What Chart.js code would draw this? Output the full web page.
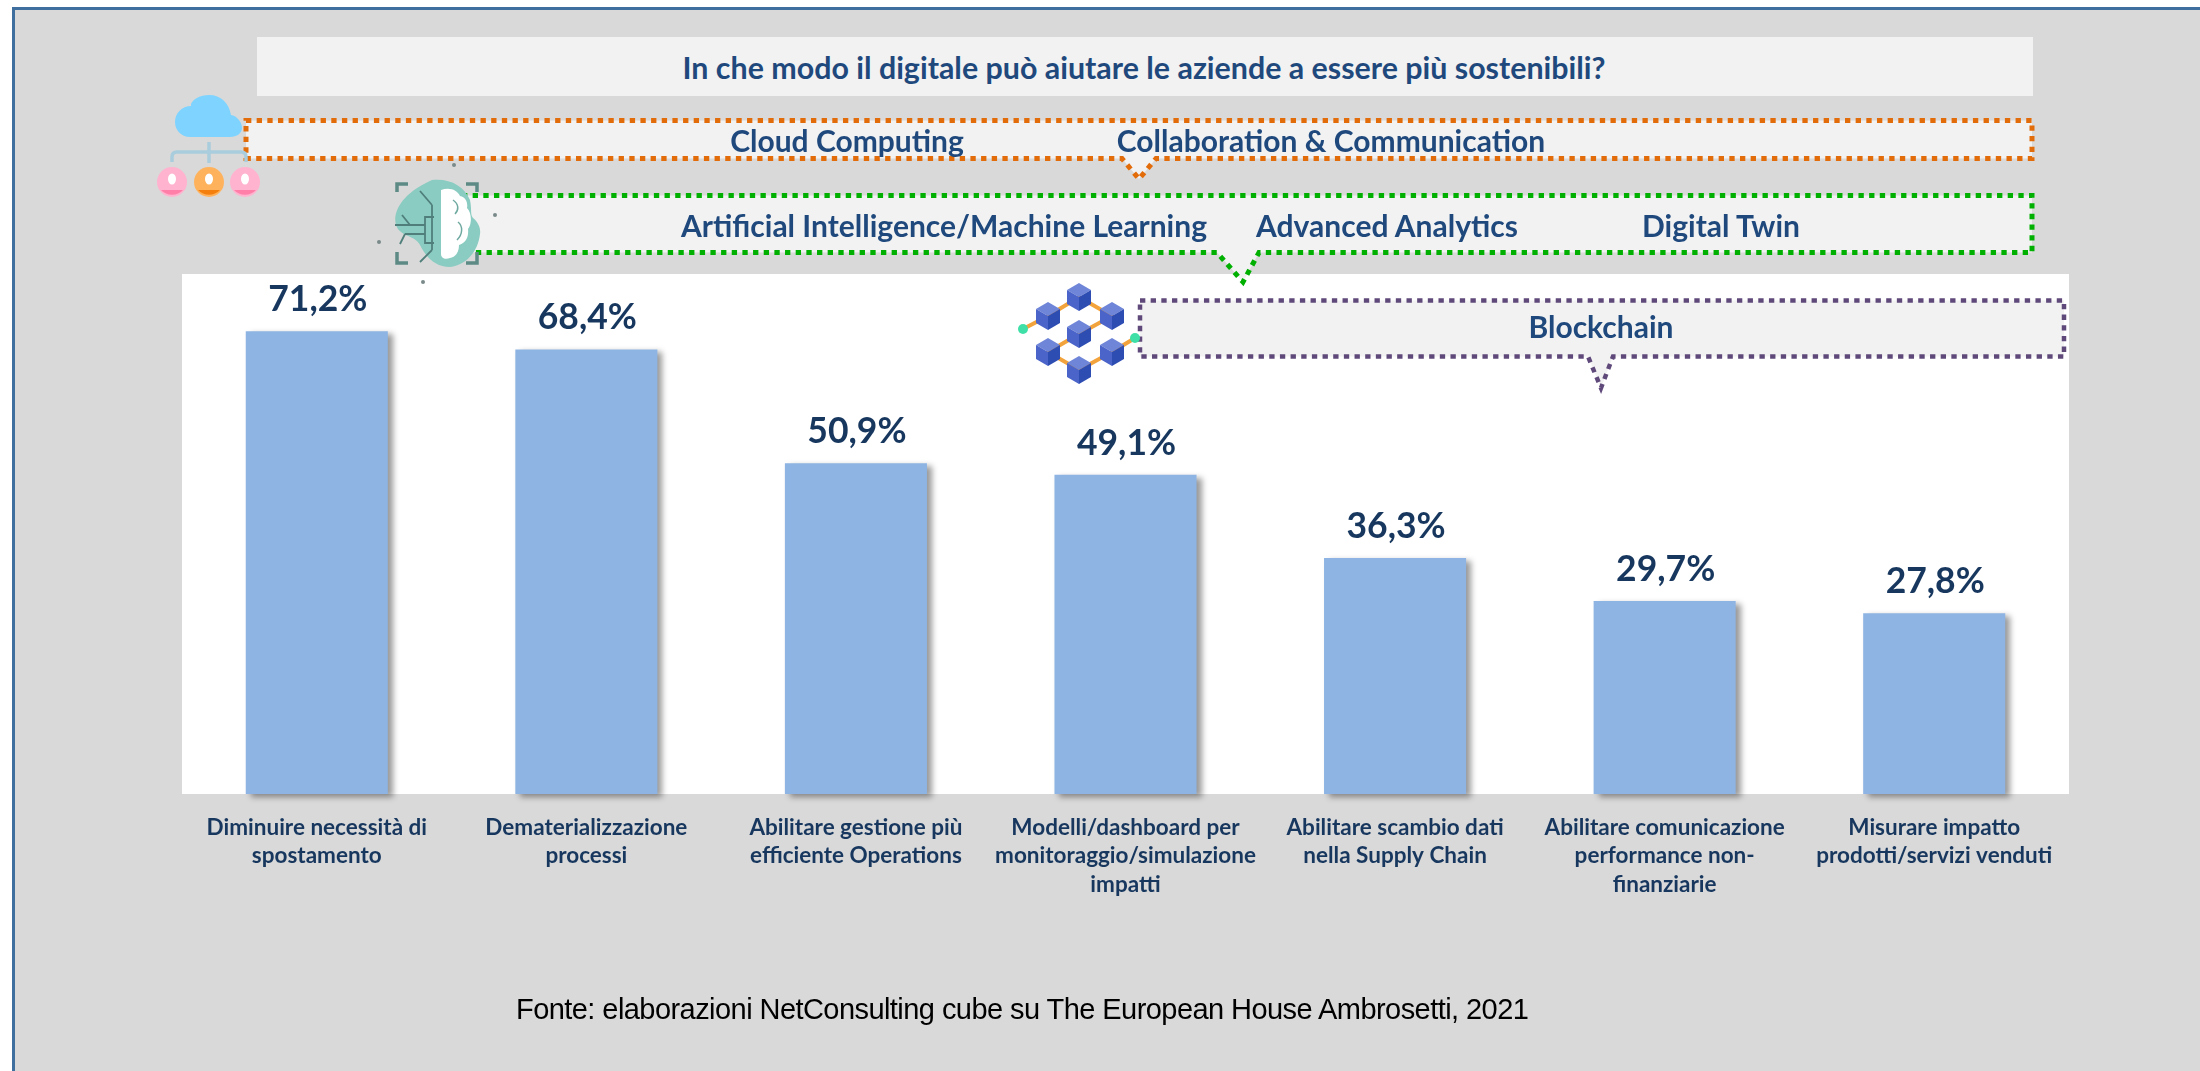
<!DOCTYPE html>
<html lang="it"><head><meta charset="utf-8">
<style>
html,body{margin:0;padding:0;width:2200px;height:1071px;overflow:hidden;background:#fff}
#wrap{position:absolute;left:0;top:0;width:2200px;height:1071px}
#c{position:absolute;left:0;top:0}
svg{position:absolute;left:0;top:0}
.t{position:absolute;transform:translate(-50%,-50%);white-space:nowrap;font-family:Lato,sans-serif;font-weight:700;color:#1f497d;font-size:30px}
#src{position:absolute;left:516px;top:993px;font-family:"Liberation Sans",sans-serif;font-size:29px;letter-spacing:-0.56px;color:#000;white-space:nowrap}
#frame{position:absolute;left:12px;top:7px;right:-10px;bottom:-10px;background:#d9d9d9;border:3px solid #3f6f9f}
</style></head><body>
<div id="wrap">
<div id="frame"></div>
<canvas id="c" width="2200" height="1071"></canvas>
<svg width="2200" height="1071" viewBox="0 0 2200 1071">
<rect x="257" y="37" width="1776" height="59" fill="#f2f2f2"/>
<path d="M246 120.500H2032V158.500H1156L1139 179L1122 158.500H246Z" fill="#f2f2f2" stroke="#e36c0a" stroke-width="5" stroke-dasharray="5.330 5.330"/>
<path d="M462 195.500H2032V252.500H1259L1243 282L1217 252.500H462Z" fill="#f2f2f2" stroke="#00b000" stroke-width="5" stroke-dasharray="5.330 5.330"/>
<path d="M1140 300.500H2064V356.500H1613L1601 388L1588 356.500H1140Z" fill="#f2f2f2" stroke="#5f497a" stroke-width="4.500" stroke-dasharray="5.330 5.330"/>
<!-- cloud network icon -->
<g>
<path d="M190 137c-9 0-15-7-15-15 0-9 7-16 16-16 0-1 0-2 0-2 2-5 9-9 18-9 12 0 20 8 22 20 6 1 11 7 11 13 0 5-5 9-12 9z" fill="#7fd4ff"/>
<path d="M209 142v21M172 162v-5q0-5 5-5h64q5 0 5 5v5" fill="none" stroke="#a9cddc" stroke-width="3.500"/>
<circle cx="172" cy="182" r="15" fill="#ffb3cf"/><circle cx="209" cy="182" r="15" fill="#ffb25c"/><circle cx="245" cy="182" r="15" fill="#ffb3cf"/>
<path d="M161 190a15 15 0 0 0 22 0z" fill="#ff7fa8"/><path d="M198 190a15 15 0 0 0 22 0z" fill="#f57f0c"/><path d="M234 190a15 15 0 0 0 22 0z" fill="#ff7fa8"/>
<ellipse cx="172" cy="179" rx="4" ry="5.500" fill="#fff"/><ellipse cx="209" cy="179" rx="4" ry="5.500" fill="#fff"/><ellipse cx="245" cy="179" rx="4" ry="5.500" fill="#fff"/>
</g>
<!-- brain icon -->
<g>
<path d="M432 180c18-2 32 6 38 20 2 10 0 14 3 18 5 4 8 10 7 16-2 18-14 31-30 33-15 0-24-10-30-22-5-10-20-8-24-20-3-10 2-30 36-45z" fill="#8accc1"/>
<path d="M397 192v-8h11M466 184h11v8M397 252v11h11M477 252v11h-11" fill="none" stroke="#5d8a85" stroke-width="3.500"/>
<path d="M441 190c9-3 16 0 19 6 6 1 8 7 7 12 5 5 5 16 1 21 1 9-3 14-9 16 0 8-4 12-9 13-5 2-9 0-9-4z" fill="#fff"/>
<path d="M453 200c6 4 6 10 2 14M458 222c5 4 5 12-1 18" fill="none" stroke="#6fa9a0" stroke-width="1.500"/>
<path d="M432 205v45M434 217h-9v26h9M425 225h-30M425 234h-20M432 205l-12-14M432 250l-12 12M410 225l-8-10M405 234l-5 10" fill="none" stroke="#507f7b" stroke-width="1.800"/>
<circle cx="379" cy="242" r="2" fill="#7a8a8a"/><circle cx="454" cy="165" r="2" fill="#7a8a8a"/><circle cx="423" cy="282" r="2" fill="#7a8a8a"/><circle cx="495" cy="215" r="2" fill="#7a8a8a"/>
</g>
<!-- blocks icon -->
<g id="bk"></g>
</svg>
<div class="t" style="left:1144px;top:67px;font-size:30.4px">In che modo il digitale può aiutare le aziende a essere più sostenibili?</div>
<div class="t" style="left:847px;top:140px">Cloud Computing</div>
<div class="t" style="left:1331px;top:140px">Collaboration &amp; Communication</div>
<div class="t" style="left:944px;top:225px">Artificial Intelligence/Machine Learning</div>
<div class="t" style="left:1387px;top:225px">Advanced Analytics</div>
<div class="t" style="left:1721px;top:225px">Digital Twin</div>
<div class="t" style="left:1601px;top:326px">Blockchain</div>
<div id="src">Fonte: elaborazioni NetConsulting cube su The European House Ambrosetti, 2021</div>
</div>
<script src="https://cdn.jsdelivr.net/npm/chart.js@4/dist/chart.umd.min.js"></script>
<script>
const categories = [
  ["Diminuire necessità di","spostamento"],
  ["Dematerializzazione","processi"],
  ["Abilitare gestione più","efficiente Operations"],
  ["Modelli/dashboard per","monitoraggio/simulazione","impatti"],
  ["Abilitare scambio dati","nella Supply Chain"],
  ["Abilitare comunicazione","performance non-","finanziarie"],
  ["Misurare impatto","prodotti/servizi venduti"]
];
const seriesValues = [71.2, 68.4, 50.9, 49.1, 36.3, 29.7, 27.8];
const seriesLabel = "Percentuale di aziende";

// decorative blockchain icon
(function(){
  const cubes=[[1079,297],[1048,316],[1112,316],[1079,334],[1048,352],[1112,352],[1079,370]];
  let s='<path d="M1023 329L1048 316L1079 297L1112 316L1079 334L1048 352L1079 370L1112 352L1135 338" fill="none" stroke="#f2a33c" stroke-width="4"/>';
  s+='<circle cx="1023" cy="329" r="5" fill="#3fe0a8"/><circle cx="1135" cy="338" r="5" fill="#3fe0a8"/>';
  cubes.forEach(([x,y])=>{
    s+=`<path d="M${x} ${y-14}L${x+12} ${y-7}L${x} ${y}L${x-12} ${y-7}Z" fill="#6f86d8"/>`;
    s+=`<path d="M${x-12} ${y-7}L${x} ${y}V${y+14}L${x-12} ${y+7}Z" fill="#4a64c9"/>`;
    s+=`<path d="M${x+12} ${y-7}L${x} ${y}V${y+14}L${x+12} ${y+7}Z" fill="#2d4db3"/>`;
  });
  document.getElementById('bk').innerHTML=s;
})();

const bg={id:'bg',beforeDraw(ch){const{ctx,chartArea:a}=ch;ctx.save();ctx.fillStyle='#fff';ctx.fillRect(a.left,a.top,a.right-a.left,a.bottom-a.top);ctx.restore();}};
const shadow={id:'shadow',
 beforeDatasetDraw(ch){const c=ch.ctx;c.save();c.shadowColor='rgba(0,0,0,0.4)';c.shadowBlur=6;c.shadowOffsetX=5;c.shadowOffsetY=3;},
 afterDatasetDraw(ch){ch.ctx.restore();}};
const labels={id:'vals',afterDatasetsDraw(ch){const c=ch.ctx;c.save();c.font='700 35.5px Lato,sans-serif';c.fillStyle='#17375e';c.textAlign='center';c.textBaseline='alphabetic';
 ch.getDatasetMeta(0).data.forEach((b,i)=>{c.fillText(seriesValues[i].toFixed(1).replace('.',',')+'%',b.x+1,b.y-20);});c.restore();}};

new Chart(document.getElementById('c'),{
 type:'bar',
 data:{labels:categories,datasets:[{label:seriesLabel,data:seriesValues,backgroundColor:'#8eb4e3',borderWidth:0,barPercentage:0.527,categoryPercentage:1,clip:false}]},
 options:{responsive:false,animation:false,
  layout:{padding:{left:182,right:131,top:274,bottom:0}},
  plugins:{legend:{display:false},tooltip:{enabled:false}},
  scales:{
   x:{grid:{display:false},border:{display:false},afterFit(s){s.height=277;},ticks:{color:'#17375e',font:{family:'Lato,sans-serif',weight:'700',size:22.5,lineHeight:1.25},maxRotation:0,minRotation:0,autoSkip:false,padding:12}},
   y:{display:false,min:0,max:80}
  }},
 plugins:[bg,shadow,labels]
});
</script>
</body></html>
